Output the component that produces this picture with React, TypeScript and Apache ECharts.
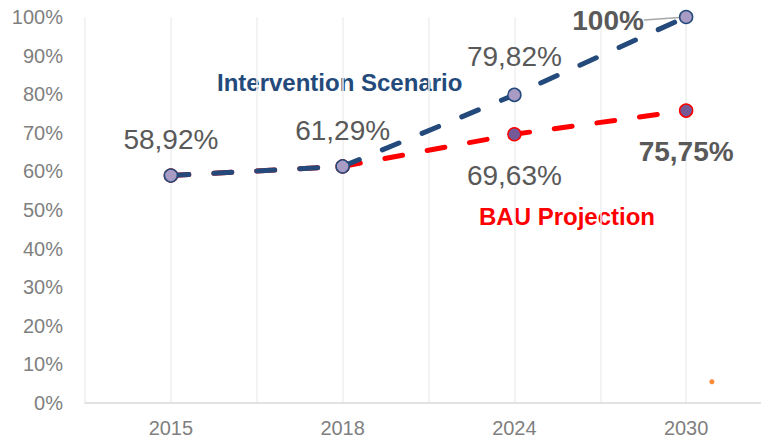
import React, { useEffect, useRef } from "react";
import * as echarts from "echarts";

const categories = ["2015", "2018", "2024", "2030"];
const bauValues = [58.92, 61.29, 69.63, 75.75];
const interventionValues = [58.92, 61.29, 79.82, 100];
const bauLabels = ["", "", "69,63%", "75,75%"];
const interventionLabels = ["58,92%", "61,29%", "79,82%", "100%"];
const strayPoint = [[7.3, 5.5]];
const yTicks = [0, 10, 20, 30, 40, 50, 60, 70, 80, 90, 100];

const FONT = "'Liberation Sans', Arial, sans-serif";
const BLUE = "#234a7b";
const RED = "#ff0000";

export default function App() {
  const ref = useRef<HTMLDivElement>(null);

  useEffect(() => {
    if (!ref.current) return;
    document.body.style.margin = "0";
    const chart = echarts.init(ref.current, null, { renderer: "svg" });
    const xPos = (i: number) => 2 * i + 1;

    const bauData = bauValues.map((v, i) => {
      const d: any = { value: [xPos(i), v] };
      if (bauLabels[i]) {
        d.label = {
          show: true,
          position: "bottom",
          distance: i === 3 ? 20 : 20,
          formatter: bauLabels[i],
          fontWeight: i === 3 ? "bold" : "normal",
        };
      }
      return d;
    });

    const intData = interventionValues.map((v, i) => {
      const d: any = { value: [xPos(i), v] };
      if (i === 3) {
        d.label = {
          show: true,
          position: "left",
          distance: 8,
          formatter: interventionLabels[i],
          fontWeight: "bold",
        };
        d.labelLine = {
          show: true,
          lineStyle: { color: "#a6a6a6", width: 1.5 },
        };
      } else {
        d.label = {
          show: true,
          position: "top",
          distance: i === 2 ? 17 : 15,
          formatter: interventionLabels[i],
        };
      }
      return d;
    });

    chart.setOption({
      animation: false,
      textStyle: { fontFamily: FONT },
      grid: {
        left: 85,
        top: 17,
        width: 687,
        height: 386,
        outerBoundsMode: "none",
        containLabel: false,
      },
      xAxis: {
        type: "value",
        min: 0,
        max: 8,
        interval: 1,
        axisLine: { show: true, onZero: false, lineStyle: { color: "#d9d9d9", width: 1.5 } },
        axisTick: { show: false },
        splitLine: { show: true, lineStyle: { color: "#efefef", width: 1.5 } },
        axisLabel: {
          color: "#7f7f7f",
          fontSize: 20,
          fontFamily: FONT,
          margin: 15,
          showMinLabel: true,
          showMaxLabel: true,
          formatter: (v: number) => (v % 2 === 1 ? categories[(v - 1) / 2] : ""),
        },
      },
      yAxis: {
        type: "value",
        min: yTicks[0],
        max: yTicks[yTicks.length - 1],
        interval: 10,
        axisLine: { show: false },
        axisTick: { show: false },
        splitLine: { show: false },
        axisLabel: {
          color: "#7f7f7f",
          fontSize: 20,
          fontFamily: FONT,
          margin: 22,
          formatter: (v: number) => v + "%",
        },
      },
      series: [
        {
          name: "BAU Projection",
          type: "line",
          data: bauData,
          symbol: "circle",
          symbolSize: 13,
          lineStyle: { color: RED, width: 5, type: [18, 25], cap: "round" },
          itemStyle: { color: "#745a96", borderColor: RED, borderWidth: 1.5 },
          label: { color: "#595959", fontSize: 28, fontFamily: FONT },
          z: 2,
        },
        {
          name: "Intervention Scenario",
          type: "line",
          data: intData,
          symbol: "circle",
          symbolSize: 13,
          lineStyle: { color: BLUE, width: 5, type: [18, 25], cap: "round" },
          itemStyle: { color: "#a89cc5", borderColor: BLUE, borderWidth: 1.5 },
          label: { color: "#595959", fontSize: 28, fontFamily: FONT },
          labelLayout: (params: any) =>
            params.dataIndex === 3 ? { dx: -27, dy: 3 } : {},
          z: 3,
        },
        {
          type: "scatter",
          data: strayPoint,
          symbol: "circle",
          symbolSize: 5,
          itemStyle: { color: "#ff6a00" },
          z: 1,
        },
      ],
      graphic: [
        {
          type: "text",
          left: 217,
          top: 70,
          style: {
            text: "Intervention Scenario",
            fill: BLUE,
            font: `bold 24px ${FONT}`,
          },
        },
        {
          type: "text",
          left: 479,
          top: 204,
          style: {
            text: "BAU Projection",
            fill: RED,
            font: `bold 24px ${FONT}`,
          },
        },
      ],
    });
    return () => chart.dispose();
  }, []);

  return (
    <div
      ref={ref}
      style={{ position: "absolute", left: 0, top: 0, width: 761, height: 441 }}
    />
  );
}
